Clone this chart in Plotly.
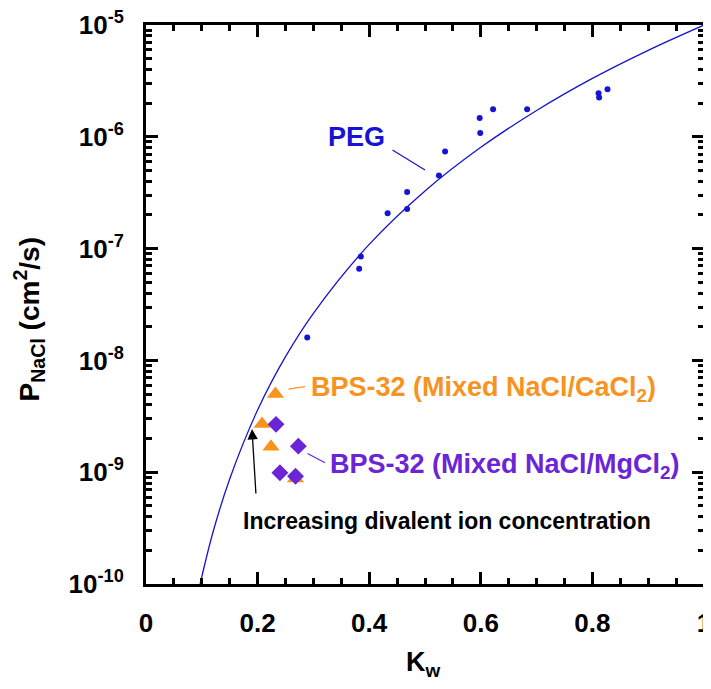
import math
import plotly.graph_objects as go

# ---------------- data ----------------
peg_kw = [0.289, 0.382, 0.385, 0.433, 0.468, 0.468, 0.525, 0.536, 0.599, 0.598, 0.622, 0.683, 0.811, 0.812, 0.827]
peg_p = [1.6e-8, 6.6e-8, 8.5e-8, 2.07e-7, 2.26e-7, 3.2e-7, 4.5e-7, 7.4e-7, 1.08e-6, 1.47e-6, 1.76e-6, 1.76e-6, 2.45e-6, 2.25e-6, 2.66e-6]

fit_kw = [0.097, 0.12, 0.15, 0.2, 0.25, 0.3, 0.4, 0.5, 0.6, 0.7, 0.8, 0.9, 1.0]
fit_p = [1.0e-10, 2.9e-10, 8.7e-10, 3.6e-9, 1.08e-8, 2.64e-8, 1.09e-7, 3.28e-7, 8.05e-7, 1.72e-6, 3.33e-6, 5.94e-6, 1.0e-5]

ca_kw = [0.232, 0.208, 0.224, 0.268]
ca_p = [5.0e-9, 2.7e-9, 1.69e-9, 8.8e-10]

mg_kw = [0.233, 0.273, 0.240, 0.268]
mg_p = [2.68e-9, 1.71e-9, 9.9e-10, 9.2e-10]

x_tickvals = [0, 0.2, 0.4, 0.6, 0.8, 1]
x_ticktext = ["0", "0.2", "0.4", "0.6", "0.8", "1"]
y_tickvals = [1e-10, 1e-9, 1e-8, 1e-7, 1e-6, 1e-5]
y_ticktext = ["10<sup>-10</sup>", "10<sup>-9</sup>", "10<sup>-8</sup>", "10<sup>-7</sup>", "10<sup>-6</sup>", "10<sup>-5</sup>"]

# ---------------- styles ----------------
BLUE = "#1414d2"
ORANGE = "#f7931e"
PURPLE = "#6b24d6"
FONT = "Arial, Liberation Sans, sans-serif"

fig = go.Figure()

fig.add_trace(go.Scatter(x=fit_kw, y=fit_p, mode="lines", line=dict(color=BLUE, width=1.3, shape="spline"),
                         showlegend=False, hoverinfo="skip"))
fig.add_trace(go.Scatter(x=peg_kw, y=peg_p, mode="markers", marker=dict(color=BLUE, size=6),
                         showlegend=False))
fig.add_trace(go.Scatter(x=ca_kw, y=ca_p, mode="markers",
                         marker=dict(symbol="triangle-up", color=ORANGE, size=15, line=dict(width=0)),
                         showlegend=False))
fig.add_trace(go.Scatter(x=mg_kw, y=mg_p, mode="markers",
                         marker=dict(symbol="diamond", color=PURPLE, size=13, line=dict(width=0)),
                         showlegend=False))

L = math.log10
annotations = [
    # PEG label and leader
    dict(x=0.5, y=L(5.05e-7), xref="x", yref="y", text="", showarrow=True, arrowhead=0,
         arrowwidth=1.2, arrowcolor=BLUE, ax=-34, ay=-21, standoff=0),
    dict(x=(356 - 146) / 558, y=-5 - (137 - 25) / 111.8, xref="x", yref="y", text="<b>PEG</b>", showarrow=False,
         font=dict(family=FONT, size=27, color=BLUE)),
    # CaCl2 label and leader
    dict(x=(305 - 146) / 558, y=-5 - (386.7 - 25) / 111.8, xref="x", yref="y", text="", showarrow=True,
         arrowhead=0, arrowwidth=1.2, arrowcolor=ORANGE, ax=-18, ay=2.6, standoff=0),
    dict(x=(309 - 146) / 558, y=-5 - (385 - 25) / 111.8, xref="x", yref="y",
         text="<b>BPS-32 (Mixed NaCl/CaCl<sub>2</sub>)</b>", showarrow=False, xanchor="left", yanchor="middle",
         font=dict(family=FONT, size=27, color=ORANGE), yshift=-4),
    # MgCl2 label and leader
    dict(x=(325 - 146) / 558, y=-5 - (462.7 - 25) / 111.8, xref="x", yref="y", text="", showarrow=True,
         arrowhead=0, arrowwidth=1.2, arrowcolor=PURPLE, ax=-19, ay=-10, standoff=0),
    dict(x=(328 - 146) / 558, y=-5 - (462 - 25) / 111.8, xref="x", yref="y",
         text="<b>BPS-32 (Mixed NaCl/MgCl<sub>2</sub>)</b>", showarrow=False, xanchor="left", yanchor="middle",
         font=dict(family=FONT, size=27, color=PURPLE), yshift=-4),
    # increasing arrow
    dict(x=(252 - 146) / 558, y=-5 - (429 - 25) / 111.8, xref="x", yref="y", text="", showarrow=True,
         arrowhead=2, arrowsize=1.6, arrowwidth=1.3, arrowcolor="black", ax=4, ay=66, standoff=0),
    dict(x=(447 - 146) / 558, y=-5 - (521 - 25) / 111.8, xref="x", yref="y",
         text="<b>Increasing divalent ion concentration</b>", showarrow=False,
         font=dict(family=FONT, size=23, color="black")),
    # axis titles
    dict(x=0.5, y=0, xref="paper", yref="paper", text="<b>K<sub>w</sub></b>", showarrow=False,
         yanchor="middle", yshift=-80, xshift=-2, font=dict(family=FONT, size=27, color="black")),
    dict(x=0, y=0.5, xref="paper", yref="paper", text="<b>P<sub>NaCl</sub> (cm<sup>2</sup>/s)</b>",
         showarrow=False, textangle=-90, xanchor="center", xshift=-117, yshift=-15,
         font=dict(family=FONT, size=28, color="black")),
]

axis_common = dict(
    showline=True, linecolor="black", linewidth=3, mirror="ticks",
    ticks="inside", tickcolor="black", tickwidth=3, ticklen=12,
    showgrid=False, zeroline=False, automargin=False, ticklabeloverflow="allow",
    tickfont=dict(family=FONT, size=26, color="black", weight="bold"),
)

fig.update_xaxes(range=[0, 1], tickvals=x_tickvals, ticktext=x_ticktext,
                 minor=dict(ticks="inside", ticklen=6, tickwidth=3, tickcolor="black", dtick=0.05, showgrid=False),
                 ticklabelstandoff=14, **axis_common)
fig.update_yaxes(type="log", range=[-10, -5], tickvals=y_tickvals, ticktext=y_ticktext,
                 minor=dict(ticks="inside", ticklen=6, tickwidth=3, tickcolor="black", dtick="D1", showgrid=False),
                 ticklabelstandoff=14, **axis_common)

# page body has an 8px margin, so margins are offset to put the frame where the reference has it
fig.update_layout(
    width=711, height=689,
    margin=dict(l=138, r=15, t=17, b=113, autoexpand=False),
    plot_bgcolor="white", paper_bgcolor="white",
    annotations=annotations,
    font=dict(family=FONT),
)

fig.write_html("out.html")
